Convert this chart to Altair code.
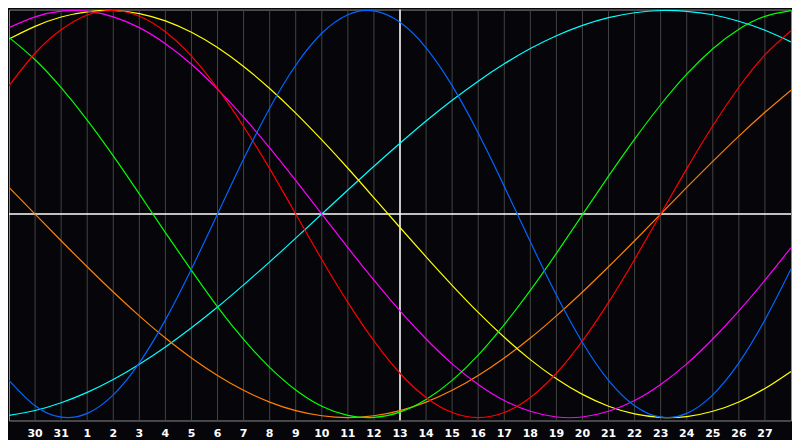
import altair as alt
import pandas as pd

# day index 0..30 across the view (x = day slot)
day_index = list(range(31))
# tick labels at slots 1..29
tick_slots = list(range(1, 30))
tick_labels = ["30", "31"] + [str(d) for d in range(1, 28)]
today_slot = 15

# values (-1 .. 1)
blue_23 = [-0.817, -0.942, -0.998, -0.979, -0.888, -0.731, -0.520, -0.270, 0.000, 0.270,
           0.520, 0.731, 0.888, 0.979, 0.998, 0.942, 0.817, 0.631, 0.398, 0.136,
           -0.136, -0.398, -0.631, -0.817, -0.942, -0.998, -0.979, -0.888, -0.731, -0.520, -0.270]
red_28 = [0.630, 0.790, 0.905, 0.978, 1.000, 0.972, 0.896, 0.776, 0.617, 0.430,
          0.223, 0.000, -0.223, -0.434, -0.623, -0.782, -0.901, -0.975, -1.000, -0.975,
          -0.901, -0.782, -0.623, -0.434, -0.223, 0.000, 0.223, 0.434, 0.623, 0.782, 0.901]
green_33 = [0.868, 0.758, 0.621, 0.462, 0.286, 0.099, -0.091, -0.277, -0.456, -0.616,
            -0.753, -0.864, -0.944, -0.989, -0.999, -0.973, -0.911, -0.817, -0.693, -0.543,
            -0.375, -0.193, -0.003, 0.186, 0.368, 0.537, 0.687, 0.812, 0.908, 0.971, 0.999]
magenta_38 = [0.916, 0.969, 0.997, 0.997, 0.969, 0.916, 0.837, 0.736, 0.614, 0.476,
              0.325, 0.165, 0.000, -0.165, -0.325, -0.476, -0.614, -0.736, -0.837, -0.916,
              -0.969, -0.997, -0.997, -0.969, -0.916, -0.837, -0.736, -0.614, -0.476, -0.325, -0.165]
yellow_43 = [0.860, 0.922, 0.968, 0.993, 1.000, 0.985, 0.949, 0.893, 0.818, 0.725,
             0.617, 0.496, 0.364, 0.225, 0.080, -0.066, -0.210, -0.350, -0.483, -0.605,
             -0.715, -0.809, -0.886, -0.944, -0.982, -0.999, -0.995, -0.969, -0.923, -0.857, -0.773]
orange_48 = [0.131, 0.000, -0.131, -0.259, -0.383, -0.500, -0.609, -0.707, -0.793, -0.866,
             -0.924, -0.966, -0.991, -1.000, -0.991, -0.966, -0.924, -0.866, -0.793, -0.707,
             -0.609, -0.500, -0.383, -0.259, -0.131, 0.000, 0.131, 0.259, 0.383, 0.500, 0.609]
cyan_53 = [-0.989, -0.965, -0.927, -0.876, -0.813, -0.738, -0.653, -0.559, -0.457, -0.348,
           -0.235, -0.118, 0.000, 0.118, 0.235, 0.348, 0.457, 0.559, 0.653, 0.738,
           0.813, 0.876, 0.927, 0.965, 0.989, 1.000, 0.996, 0.979, 0.947, 0.903, 0.846]

series_names = ["cyan", "orange", "yellow", "magenta", "green", "red", "blue"]
series_values = [cyan_53, orange_48, yellow_43, magenta_38, green_33, red_28, blue_23]
series_colors = ["#00ffff", "#ff8000", "#ffff00", "#ff00ff", "#00ff00", "#ff0000", "#0066ff"]

rows = []
for name, vals in zip(series_names, series_values):
    for k, v in zip(day_index, vals):
        rows.append({"slot": k, "value": v, "series": name})
df = pd.DataFrame(rows)
labels_df = pd.DataFrame({"slot": tick_slots, "label": tick_labels})

W, H = 784, 412

xs = alt.Scale(domain=[0, 30], nice=False)
ys = alt.Scale(domain=[-1.0142, 1.0047], nice=False, zero=False)

grid = alt.Chart(labels_df).mark_rule(color="#444444", strokeWidth=1).encode(
    x=alt.X("slot:Q", scale=xs, axis=None)
)

lines = alt.Chart(df).mark_line(strokeWidth=1.2, interpolate="natural", clip=True).encode(
    x=alt.X("slot:Q", scale=xs, axis=None),
    y=alt.Y("value:Q", scale=ys, axis=None),
    color=alt.Color("series:N", scale=alt.Scale(domain=series_names, range=series_colors),
                    legend=None),
)

zero_rule = alt.Chart(pd.DataFrame({"value": [0]})).mark_rule(color="white", strokeWidth=1.5).encode(
    y=alt.Y("value:Q", scale=ys, axis=None)
)
today_rule = alt.Chart(pd.DataFrame({"slot": [today_slot]})).mark_rule(color="white", strokeWidth=1.5).encode(
    x=alt.X("slot:Q", scale=xs, axis=None)
)

labels = alt.Chart(labels_df).mark_text(
    color="white", font="DejaVu Sans", fontWeight="bold", fontSize=11,
    baseline="middle", align="center"
).encode(
    x=alt.X("slot:Q", scale=xs, axis=None),
    y=alt.value(H + 14),
    text="label:N",
)

chart = alt.layer(grid, zero_rule, today_rule, lines, labels).properties(
    width=W, height=H, padding=0, background="#05050a",
).configure_view(stroke="#8c8c8c", strokeWidth=1, fill="#05050a")

chart.save("out.html", embed_options={"renderer": "svg", "actions": False})
